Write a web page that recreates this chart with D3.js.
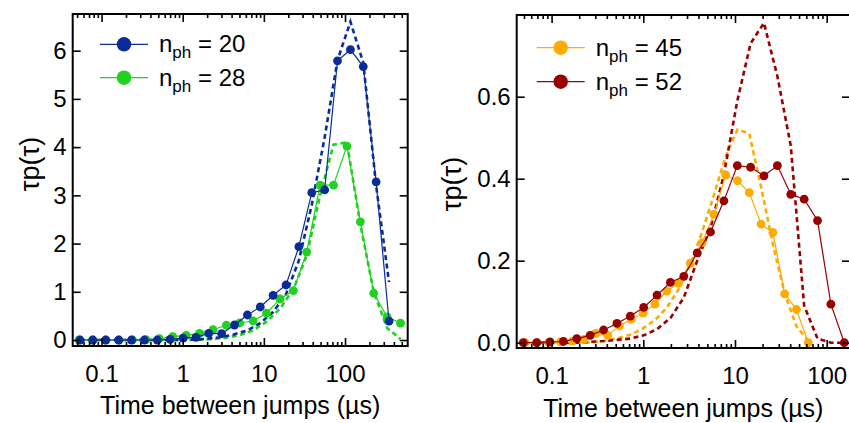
<!DOCTYPE html>
<html><head><meta charset="utf-8">
<script src="https://cdn.jsdelivr.net/npm/d3@7"></script>
<style>
body{margin:0;background:#fff}
svg{display:block}
text{font-family:"Liberation Sans",Arial,Helvetica,sans-serif;fill:#000}
</style>
</head><body>
<svg id="chart" width="849" height="423"></svg>
<script>
// ---------- data ----------
const xTickValues = [0.1, 1, 10, 100];
const xTickLabels = ["0.1", "1", "10", "100"];
const yTicksLeft = [0, 1, 2, 3, 4, 5, 6];
const yTickLabelsLeft = ["0", "1", "2", "3", "4", "5", "6"];
const yTicksRight = [0, 0.2, 0.4, 0.6];
const yTickLabelsRight = ["0.0", "0.2", "0.4", "0.6"];
const xTitle = "Time between jumps (\u00b5s)";
const yTitle = "\u03c4p(\u03c4)";

// left panel: n_ph = 20 (blue), n_ph = 28 (green)
const tauBlue = [0.0543,0.0782,0.1126,0.1622,0.2339,0.3373,0.4859,0.6997,1.008,1.454,2.094,3.016,4.347,6.27,9.03,13.0,18.75,27.0,38.9,56.1,80.8,116.5,167.9,241.7,348.5];
const valBlue = [0,0,0,0,0,0,0,0.015,0.04,0.056,0.139,0.131,0.311,0.519,0.685,0.927,1.141,1.936,3.056,3.112,5.79,6.02,5.67,3.28,0.39];
const fitBlue = [0,0,0,0,0,0,0,0.001,0.003,0.008,0.03,0.06,0.12,0.2,0.35,0.58,0.95,1.65,2.8,4.2,5.8,6.6,5.75,3.2,1.2];

const tauGreen = [0.0526,0.0769,0.1125,0.1644,0.2406,0.352,0.515,0.753,1.101,1.61,2.36,3.45,5.04,7.37,10.8,15.8,23.1,33.7,49.3,72.1,105.5,154.4,225.8,330,483];
const valGreen = [0,0,0,0,0.005,0.01,0.027,0.069,0.098,0.139,0.214,0.306,0.353,0.395,0.555,0.852,1.025,1.823,3.21,3.21,4.02,2.45,0.97,0.48,0.35];
const fitGreen = [0,0,0,0,0,0,0,0,0.002,0.008,0.02,0.05,0.1,0.2,0.38,0.65,1.05,1.75,3.0,4.05,4.1,2.4,1.0,0.25,0.02];

// right panel: n_ph = 45 (orange), n_ph = 52 (dark red)
const tauOrange = [0.0514,0.0691,0.0930,0.1251,0.1682,0.2262,0.3041,0.4090,0.5501,0.7400,0.995,1.338,1.800,2.421,3.255,4.378,5.888,7.918,10.65,14.32,19.26,25.90,34.83,46.84,63.0];
const valOrange = [0,0,0,0.002,0.004,0.008,0.023,0.018,0.041,0.057,0.072,0.094,0.126,0.145,0.194,0.244,0.313,0.409,0.395,0.366,0.289,0.269,0.119,0.081,0];
const fitOrange = [0,0,0,0,0,0,0.002,0.006,0.012,0.02,0.035,0.055,0.085,0.13,0.19,0.27,0.36,0.455,0.52,0.51,0.38,0.24,0.12,0.04,0.005];

const tauRed = [0.0491,0.0688,0.0961,0.1345,0.1883,0.2636,0.3686,0.5156,0.7214,1.010,1.412,1.975,2.765,3.87,5.41,7.57,10.6,14.8,20.7,29.0,40.6,56.8,79.5,111.1,155.6];
const valRed = [0,0,0.002,0.003,0.01,0.018,0.031,0.047,0.065,0.086,0.116,0.147,0.162,0.219,0.27,0.346,0.432,0.428,0.407,0.432,0.362,0.350,0.298,0.094,0];
const fitRed = [0,0,0,0,0,0.002,0.004,0.007,0.01,0.018,0.033,0.06,0.11,0.2,0.28,0.41,0.59,0.73,0.78,0.65,0.48,0.09,0.01,0,0];

// ---------- drawing ----------
const svg = d3.select("#chart");
const FONT_TICK = 24, FONT_TITLE = 25, FONT_YTITLE = 27;

function zip(t, v) { return t.map((d, i) => ({x: d, y: v[i]})); }

function minorTicks(dom) {
  const out = [];
  for (let e = -3; e <= 4; e++) {
    for (let m = 2; m <= 9; m++) {
      const v = m * Math.pow(10, e);
      if (v >= dom[0] && v <= dom[1]) out.push(v);
    }
  }
  return out;
}

function panel(cfg) {
  const x = d3.scaleLog().domain(cfg.xdom).range([cfg.left, cfg.right]);
  const y = d3.scaleLinear().domain(cfg.ydom).range([cfg.bottom, cfg.top]);
  const g = svg.append("g");

  const drawOrder = cfg.drawOrder.map(i => cfg.series[i]);
  const line = d3.line().x(d => x(d.x)).y(d => y(d.y));
  drawOrder.forEach(s => {
    g.append("path").datum(zip(s.tau, s.fit))
      .attr("d", line).attr("fill", "none").attr("stroke", s.color)
      .attr("stroke-width", 2.6).attr("stroke-dasharray", "5,3.5");
  });
  drawOrder.forEach(s => {
    const pts = zip(s.tau, s.val);
    g.append("path").datum(pts)
      .attr("d", line).attr("fill", "none").attr("stroke", s.color)
      .attr("stroke-width", 1.2);
    g.append("g").selectAll("circle").data(pts).join("circle")
      .attr("cx", d => x(d.x)).attr("cy", d => y(d.y)).attr("r", 4.4)
      .attr("fill", s.color);
  });

  // axes
  const styleAxis = sel => {
    sel.select(".domain").remove();
    sel.selectAll("line").attr("stroke", "#000").attr("stroke-width", 1.6);
    sel.selectAll("text").attr("font-size", FONT_TICK)
      .attr("font-family", "Liberation Sans, Arial, sans-serif").attr("fill", "#000");
  };
  const fmtX = d => xTickLabels[xTickValues.indexOf(d)];
  g.append("g").attr("transform", `translate(0,${cfg.bottom})`)
    .call(d3.axisBottom(x).tickValues(xTickValues).tickSize(-8).tickPadding(19).tickFormat(fmtX))
    .call(styleAxis);
  g.append("g").attr("transform", `translate(0,${cfg.bottom})`)
    .call(d3.axisBottom(x).tickValues(minorTicks(cfg.xdom)).tickSize(-4).tickFormat(""))
    .call(styleAxis);
  g.append("g").attr("transform", `translate(0,${cfg.top})`)
    .call(d3.axisTop(x).tickValues(xTickValues).tickSize(-8).tickFormat(""))
    .call(styleAxis);
  g.append("g").attr("transform", `translate(0,${cfg.top})`)
    .call(d3.axisTop(x).tickValues(minorTicks(cfg.xdom)).tickSize(-4).tickFormat(""))
    .call(styleAxis);
  const fmtY = d => cfg.yLabels[cfg.yTicks.indexOf(d)];
  g.append("g").attr("transform", `translate(${cfg.left},0)`)
    .call(d3.axisLeft(y).tickValues(cfg.yTicks).tickSize(-8).tickPadding(6).tickFormat(fmtY))
    .call(styleAxis);
  g.append("g").attr("transform", `translate(${cfg.right},0)`)
    .call(d3.axisRight(y).tickValues(cfg.yTicks).tickSize(-8).tickFormat(""))
    .call(styleAxis);

  // frame
  g.append("rect").attr("x", cfg.left).attr("y", cfg.top)
    .attr("width", cfg.right - cfg.left).attr("height", cfg.bottom - cfg.top)
    .attr("fill", "none").attr("stroke", "#000").attr("stroke-width", 2);

  // titles
  g.append("text").attr("x", (cfg.left + cfg.right) / 2).attr("y", cfg.xTitleY)
    .attr("text-anchor", "middle").attr("font-size", FONT_TITLE).text(xTitle);
  g.append("text").attr("transform", `translate(${cfg.yTitleX},${cfg.yTitleY}) rotate(-90)`)
    .attr("text-anchor", "middle").attr("font-size", FONT_YTITLE).text(yTitle);

  // legend (top entry = first series)
  cfg.series.forEach((s, i) => {
    const ly = cfg.legY + i * cfg.legDy;
    g.append("line").attr("x1", cfg.legX).attr("x2", cfg.legX + 48)
      .attr("y1", ly).attr("y2", ly).attr("stroke", s.color).attr("stroke-width", 1.2);
    g.append("circle").attr("cx", cfg.legX + 24).attr("cy", ly).attr("r", 7.2).attr("fill", s.color);
    const t = g.append("text").attr("x", cfg.legX + 59).attr("y", ly + 8).attr("font-size", 24);
    t.append("tspan").text("n");
    t.append("tspan").attr("font-size", 17).attr("dy", 6).text("ph");
    t.append("tspan").attr("dy", -6).text(" = " + s.name);
  });
}

panel({
  left: 72.7, right: 407.7, top: 14, bottom: 346,
  xdom: [0.0441, 592], ydom: [-0.124, 6.76],
  yTicks: yTicksLeft, yLabels: yTickLabelsLeft,
  xTitleY: 414, yTitleX: 39, yTitleY: 164,
  legX: 100, legY: 44.3, legDy: 33.4,
  series: [
    {name: "20", tau: tauBlue, val: valBlue, fit: fitBlue, color: "#0a2c99"},
    {name: "28", tau: tauGreen, val: valGreen, fit: fitGreen, color: "#1fd21f"}
  ],
  drawOrder: [1, 0]
});

panel({
  left: 516.7, right: 850, top: 15, bottom: 348,
  xdom: [0.04163, 179.6], ydom: [-0.0129, 0.7993],
  yTicks: yTicksRight, yLabels: yTickLabelsRight,
  xTitleY: 417, yTitleX: 461, yTitleY: 184,
  legX: 536.7, legY: 47.7, legDy: 34,
  series: [
    {name: "45", tau: tauOrange, val: valOrange, fit: fitOrange, color: "#ffaa00"},
    {name: "52", tau: tauRed, val: valRed, fit: fitRed, color: "#990000"}
  ],
  drawOrder: [0, 1]
});
</script>
</body></html>
